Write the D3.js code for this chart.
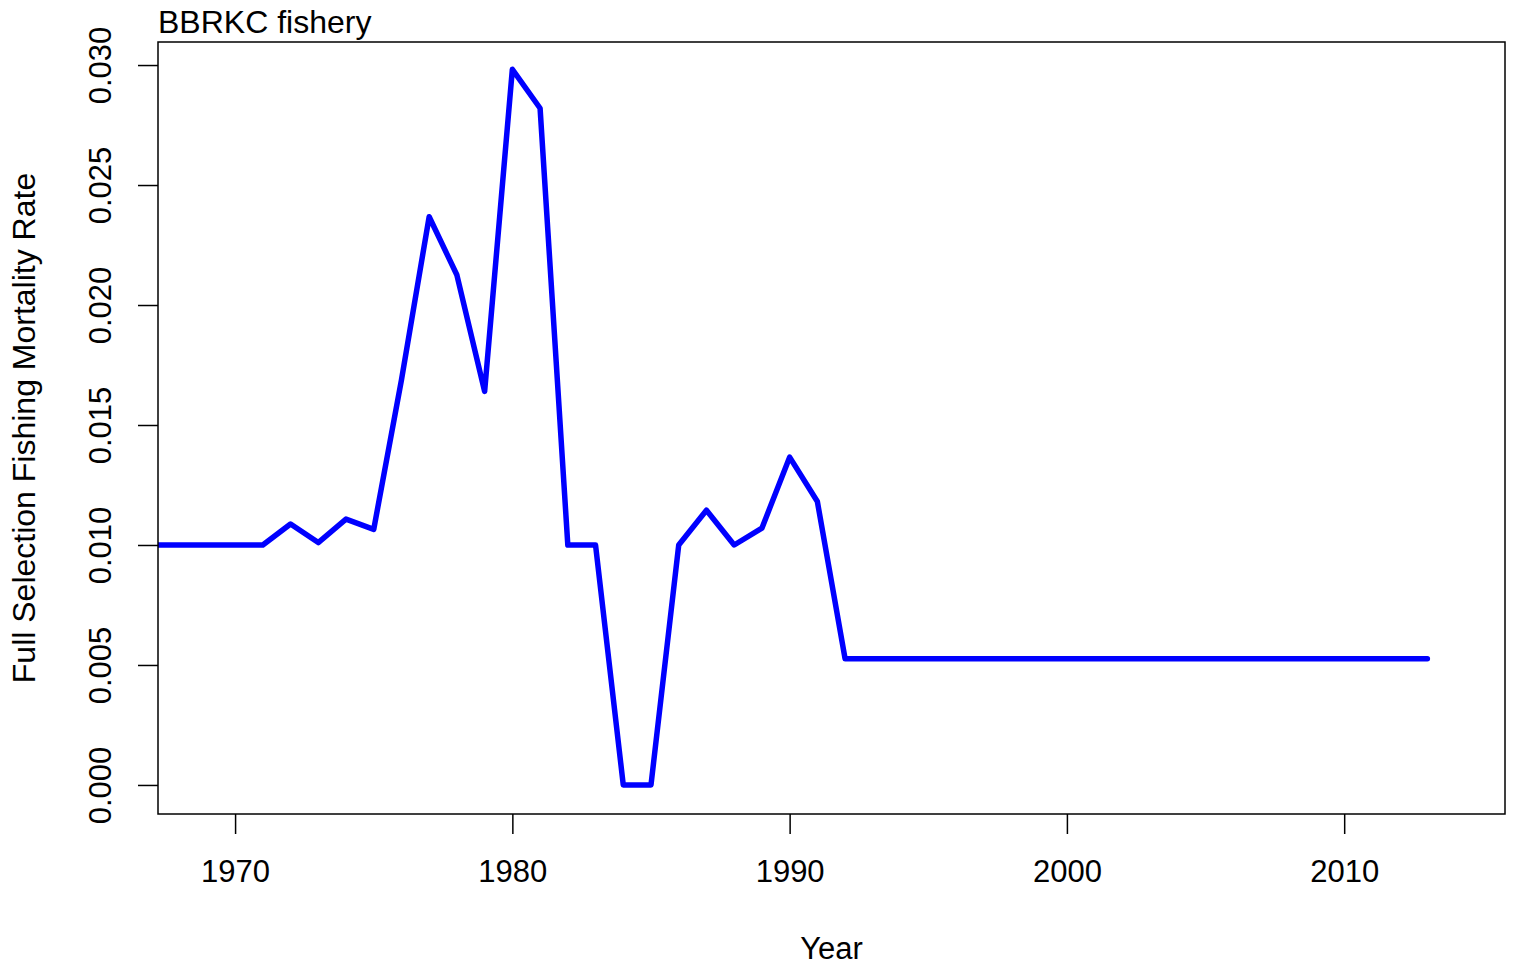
<!DOCTYPE html>
<html><head><meta charset="utf-8">
<script src="https://cdn.jsdelivr.net/npm/d3@7"></script>
<style>body{margin:0;background:#fff}text{font-family:"Liberation Sans",Arial,sans-serif}</style>
</head><body><svg id="c" width="1520" height="970"></svg>
<script>
const years = [1967,1968,1969,1970,1971,1972,1973,1974,1975,1976,1977,1978,1979,1980,1981,1982,1983,1984,1985,1986,1987,1988,1989,1990,1991,1992,1993,1994,1995,1996,1997,1998,1999,2000,2001,2002,2003,2004,2005,2006,2007,2008,2009,2010,2011,2012,2013];
const fmort = [0.010,0.010,0.010,0.010,0.010,0.010875,0.0101,0.01108,0.01065,0.01688,0.02368,0.02125,0.01640,0.02982,0.02820,0.010,0.010,0.0,0.0,0.010,0.01145,0.010,0.01070,0.01366,0.01181,0.00526,0.00526,0.00526,0.00526,0.00526,0.00526,0.00526,0.00526,0.00526,0.00526,0.00526,0.00526,0.00526,0.00526,0.00526,0.00526,0.00526,0.00526,0.00526,0.00526,0.00526,0.00526];
const xTicks = [1970,1980,1990,2000,2010];
const yTicks = [0.000,0.005,0.010,0.015,0.020,0.025,0.030];
const title = "BBRKC fishery", xLabel = "Year", yLabel = "Full Selection Fishing Mortality Rate";

const L=158,R=1505,T=42,B=814;
const svg=d3.select("#c");
const x=d3.scaleLinear().domain([1967.22,2015.8]).range([L,R]);
const y=d3.scaleLinear().domain([-0.00121,0.03096]).range([B,T]);

svg.append("clipPath").attr("id","clip").append("rect").attr("x",L).attr("y",T).attr("width",R-L).attr("height",B-T);
svg.append("path").datum(years.map((d,i)=>[d,fmort[i]]))
  .attr("clip-path","url(#clip)")
  .attr("d",d3.line().x(d=>x(d[0])).y(d=>y(d[1])))
  .attr("fill","none").attr("stroke","#0000ff").attr("stroke-width",5.5).attr("stroke-linejoin","round").attr("stroke-linecap","round");

svg.append("rect").attr("x",L).attr("y",T).attr("width",R-L).attr("height",B-T).attr("fill","none").attr("stroke","#000").attr("stroke-width",1.5);

const xa=svg.append("g").attr("transform",`translate(0,${B})`)
  .call(d3.axisBottom(x).tickValues(xTicks).tickFormat(d3.format("d")).tickSize(20).tickSizeOuter(0));
xa.select(".domain").remove();
xa.selectAll("line").attr("stroke","#000").attr("stroke-width",1.5);
xa.selectAll("text").attr("font-size",31).attr("fill","#000").attr("dy",null).attr("y",68);

const ya=svg.append("g").attr("transform",`translate(${L},0)`)
  .call(d3.axisLeft(y).tickValues(yTicks).tickFormat(d3.format(".3f")).tickSize(20).tickSizeOuter(0));
ya.select(".domain").remove();
ya.selectAll("line").attr("stroke","#000").attr("stroke-width",1.5);
ya.selectAll("text").attr("font-size",31).attr("fill","#000")
  .attr("x",null).attr("dy",null).attr("text-anchor","middle")
  .attr("transform","translate(-47,0) rotate(-90)");

svg.append("text").attr("x",L).attr("y",33).attr("font-size",32).text(title);
svg.append("text").attr("x",(L+R)/2).attr("y",959).attr("text-anchor","middle").attr("font-size",31).text(xLabel);
svg.append("text").attr("transform",`translate(35,${(T+B)/2}) rotate(-90)`).attr("text-anchor","middle").attr("font-size",32).text(yLabel);
</script></body></html>
